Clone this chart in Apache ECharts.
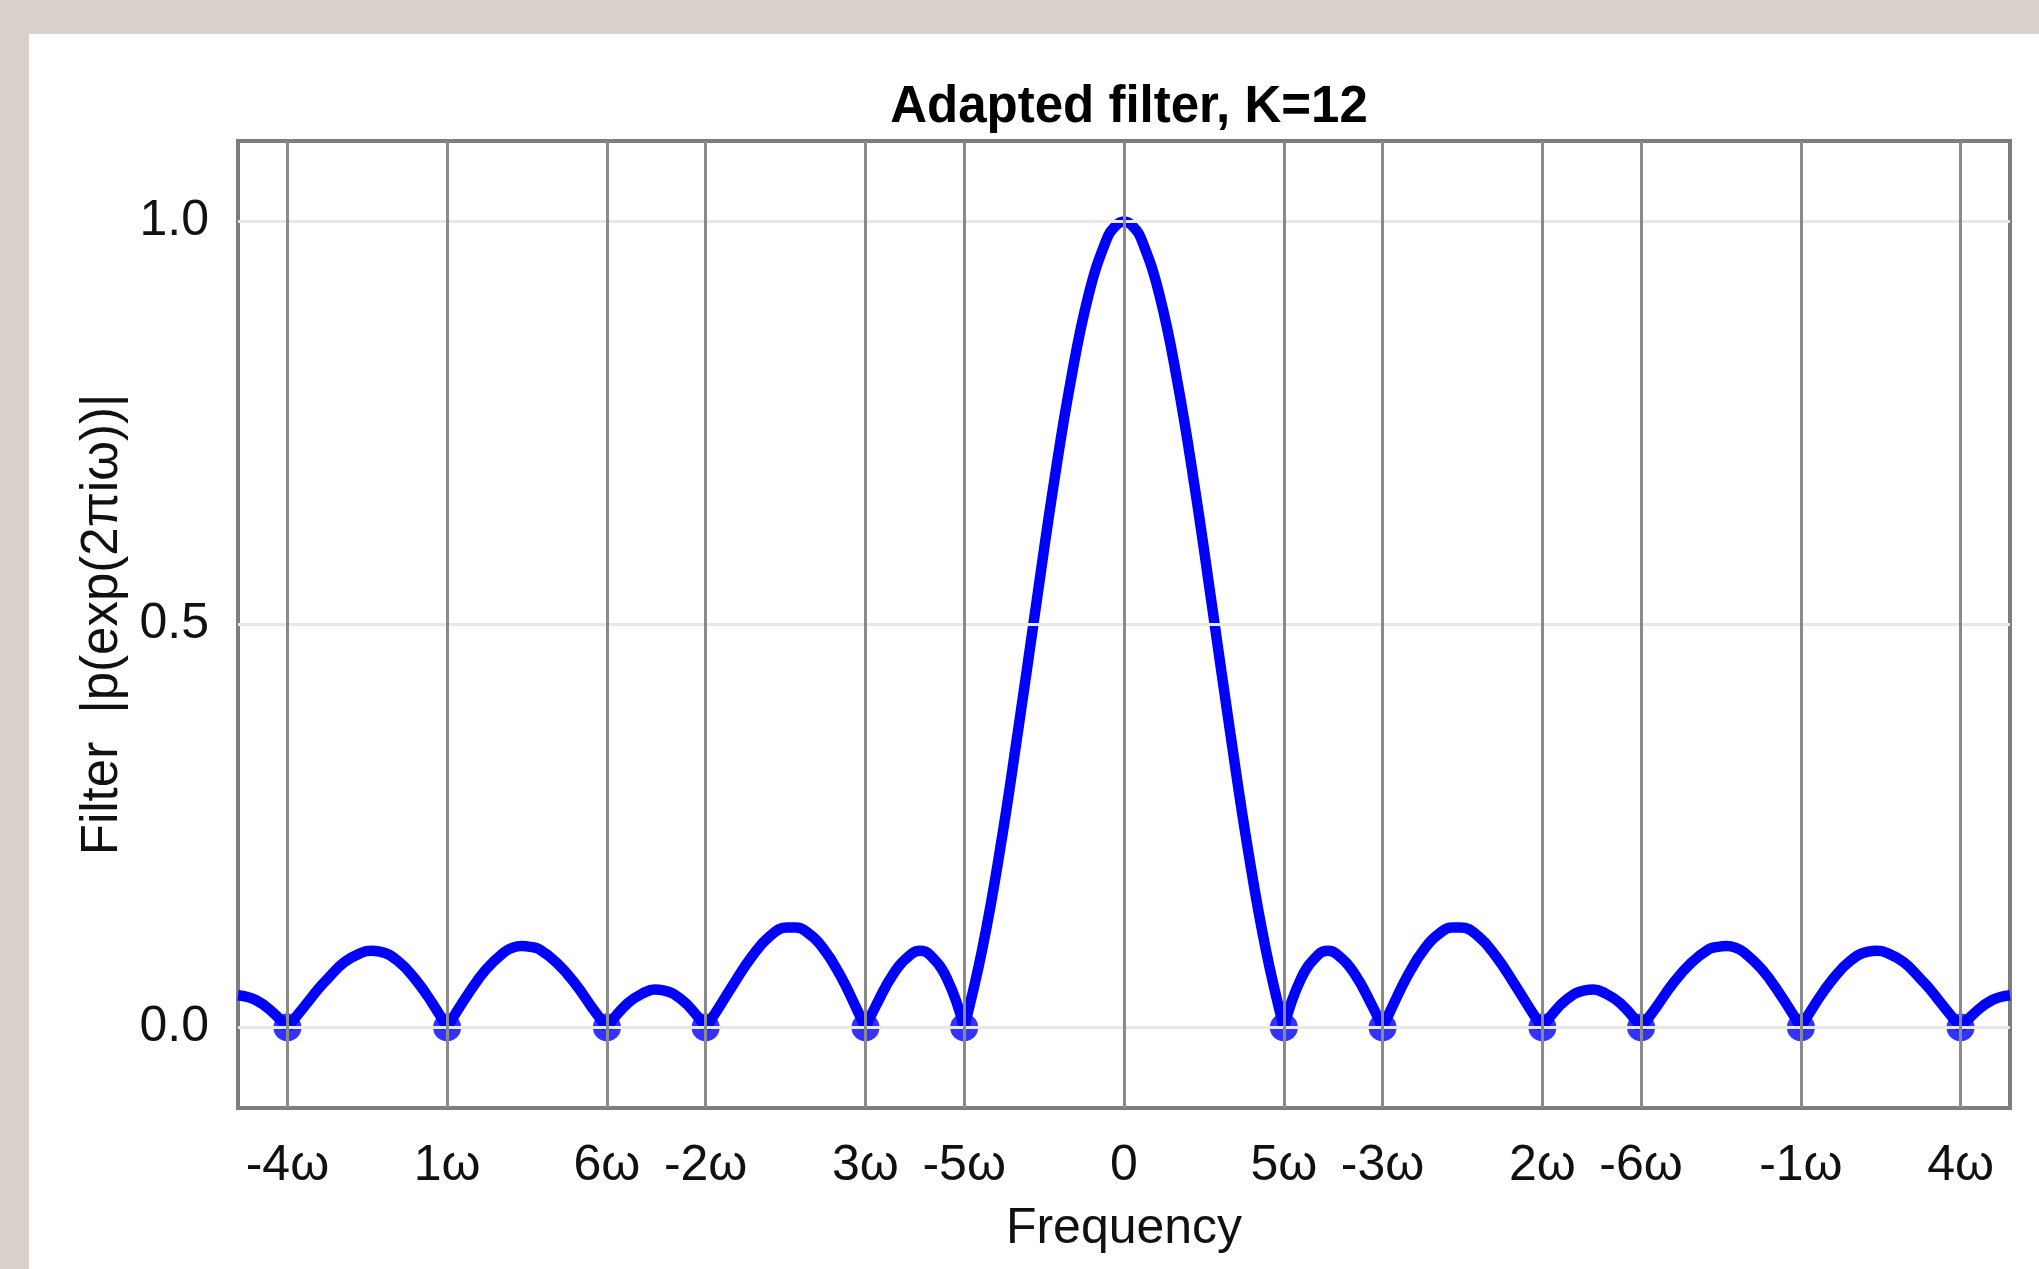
<!DOCTYPE html>
<html>
<head>
<meta charset="utf-8">
<title>Adapted filter, K=12</title>
<script src="https://cdn.jsdelivr.net/npm/echarts@6/dist/echarts.min.js"></script>
<style>
  html, body { margin: 0; padding: 0; background: #d9d0c9; }
  #chart { width: 2039px; height: 1269px; }
</style>
</head>
<body>
<div id="chart"></div>
<script>
// frequency axis runs from -1/2 to 1/2, zeros of the filter sit at k*omega (mod 1)
const freqs = [
  -0.50, -0.49, -0.48, -0.4721, -0.46, -0.455, -0.45, -0.44, -0.43, -0.425, -0.42, -0.41, -0.40, -0.39, -0.382,
  -0.37, -0.36, -0.35, -0.345, -0.34, -0.335, -0.33, -0.32, -0.31, -0.30, -0.2918,
  -0.28, -0.27, -0.265, -0.26, -0.25, -0.24, -0.2361,
  -0.23, -0.22, -0.21, -0.20, -0.19, -0.185, -0.18, -0.17, -0.16, -0.15, -0.1459,
  -0.14, -0.13, -0.12, -0.115, -0.11, -0.10, -0.0902,
  -0.08, -0.07, -0.06, -0.05, -0.04, -0.03, -0.02, -0.01, -0.005, 0,
  0.005, 0.01, 0.02, 0.03, 0.04, 0.05, 0.06, 0.07, 0.08, 0.0902,
  0.10, 0.11, 0.115, 0.12, 0.13, 0.14, 0.1459,
  0.15, 0.16, 0.17, 0.18, 0.185, 0.19, 0.20, 0.21, 0.22, 0.23, 0.2361,
  0.24, 0.25, 0.26, 0.265, 0.27, 0.28, 0.2918,
  0.30, 0.31, 0.32, 0.33, 0.335, 0.34, 0.345, 0.35, 0.36, 0.37, 0.382,
  0.39, 0.40, 0.41, 0.42, 0.425, 0.43, 0.44, 0.45, 0.455, 0.46, 0.4721,
  0.48, 0.49, 0.50
];
const gain = [
  0.040, 0.034, 0.018, 0, 0.033, 0.047, 0.059, 0.081, 0.093, 0.095, 0.094, 0.083, 0.060, 0.029, 0,
  0.042, 0.072, 0.093, 0.099, 0.101, 0.100, 0.097, 0.080, 0.055, 0.024, 0,
  0.030, 0.044, 0.047, 0.046, 0.035, 0.012, 0,
  0.020, 0.055, 0.088, 0.113, 0.124, 0.124, 0.120, 0.099, 0.064, 0.019, 0,
  0.027, 0.067, 0.091, 0.095, 0.091, 0.061, 0,
  0.097, 0.220, 0.365, 0.518, 0.669, 0.803, 0.909, 0.977, 0.994, 1.000,
  0.994, 0.977, 0.909, 0.803, 0.669, 0.518, 0.365, 0.220, 0.097, 0,
  0.061, 0.091, 0.095, 0.091, 0.067, 0.027, 0,
  0.019, 0.064, 0.099, 0.120, 0.124, 0.124, 0.113, 0.088, 0.055, 0.020, 0,
  0.012, 0.035, 0.046, 0.047, 0.044, 0.030, 0,
  0.024, 0.055, 0.080, 0.097, 0.100, 0.101, 0.099, 0.093, 0.072, 0.042, 0,
  0.029, 0.060, 0.083, 0.094, 0.095, 0.093, 0.081, 0.059, 0.047, 0.033, 0,
  0.018, 0.034, 0.040
];

const tickFreqs = [-0.4721, -0.382, -0.2918, -0.2361, -0.1459, -0.0902, 0,
  0.0902, 0.1459, 0.2361, 0.2918, 0.382, 0.4721];
const tickLabels = ['-4ω', '1ω', '6ω', '-2ω', '3ω', '-5ω', '0',
  '5ω', '-3ω', '2ω', '-6ω', '-1ω', '4ω'];
const zeroFreqs = [-0.4721, -0.382, -0.2918, -0.2361, -0.1459, -0.0902,
  0.0902, 0.1459, 0.2361, 0.2918, 0.382, 0.4721];
const yTicks = [0, 0.5, 1.0];

const FONT = '"Liberation Sans", Arial, Helvetica, sans-serif';
const BLUE = '#0000ff';

// cut the curve at every zero so each lobe keeps its sharp cusp
const lobes = [];
let cur = [];
freqs.forEach((f, i) => {
  cur.push([f, gain[i]]);
  if (gain[i] === 0 && cur.length > 1) {
    lobes.push(cur);
    cur = [[f, 0]];
  }
});
if (cur.length > 1) lobes.push(cur);

const lobeSeries = lobes.map(d => ({
  type: 'line',
  data: d,
  smooth: 0.45,
  showSymbol: false,
  lineStyle: { color: BLUE, width: 10.5 },
  z: 3
}));

const chart = echarts.init(document.getElementById('chart'));

const option = {
  animation: false,
  backgroundColor: '#d9d0c9',
  graphic: [{
    type: 'rect',
    left: 29,
    top: 34,
    shape: { width: 2010, height: 1235 },
    style: { fill: '#ffffff' },
    silent: true,
    z: -100
  }],
  title: {
    text: 'Adapted filter, K=12',
    left: 1124,
    top: 77,
    textAlign: 'center',
    textStyle: { fontFamily: FONT, fontWeight: 'bold', fontSize: 51, color: '#000' }
  },
  grid: {
    left: 238,
    right: 29,
    top: 141,
    bottom: 161,
    show: true,
    borderColor: '#7d7d7d',
    borderWidth: 4,
    backgroundColor: 'transparent'
  },
  xAxis: {
    type: 'value',
    min: -0.5,
    max: 0.5,
    name: 'Frequency',
    nameLocation: 'middle',
    nameGap: 96,
    nameTextStyle: { fontFamily: FONT, fontSize: 50, color: '#111' },
    axisLine: { show: false },
    splitLine: { show: false },
    axisTick: {
      show: true,
      customValues: tickFreqs,
      length: 15,
      lineStyle: { color: '#7d7d7d', width: 3 }
    },
    axisLabel: {
      customValues: tickFreqs,
      margin: 33,
      fontFamily: FONT,
      fontSize: 50,
      color: '#111',
      formatter: (v) => {
        const i = tickFreqs.findIndex(t => Math.abs(t - v) < 1e-6);
        return i >= 0 ? tickLabels[i] : '';
      }
    }
  },
  yAxis: {
    type: 'value',
    min: -0.1,
    max: 1.1,
    name: 'Filter  |p(exp(2πiω))|',
    nameLocation: 'middle',
    nameGap: 110,
    nameTextStyle: { fontFamily: FONT, fontSize: 51, color: '#111' },
    axisLine: { show: false },
    splitLine: { show: false },
    axisTick: {
      show: true,
      customValues: yTicks,
      length: 15,
      lineStyle: { color: '#7d7d7d', width: 3 }
    },
    axisLabel: {
      customValues: yTicks,
      margin: 29,
      fontFamily: FONT,
      fontSize: 50,
      color: '#111',
      formatter: (v) => v.toFixed(1)
    }
  },
  series: [
    {
      // light horizontal grid
      type: 'line',
      data: [],
      z: 1,
      markLine: {
        silent: true,
        precision: 6,
        symbol: ['none', 'none'],
        label: { show: false },
        lineStyle: { color: '#e8e8e8', width: 3, type: 'solid' },
        data: yTicks.map(v => ({ yAxis: v }))
      }
    },
    ...lobeSeries,
    {
      type: 'scatter',
      data: zeroFreqs.map(f => [f, 0]),
      symbolSize: 28,
      itemStyle: { color: BLUE },
      z: 4
    },
    {
      // dark lines at the tick frequencies, drawn over the curve
      type: 'line',
      data: [],
      z: 5,
      markLine: {
        silent: true,
        precision: 6,
        symbol: ['none', 'none'],
        label: { show: false },
        lineStyle: { color: '#8a8a8a', width: 3, type: 'solid' },
        data: tickFreqs.map(v => ({ xAxis: v }))
      }
    }
  ]
};

chart.setOption(option);
</script>
</body>
</html>
